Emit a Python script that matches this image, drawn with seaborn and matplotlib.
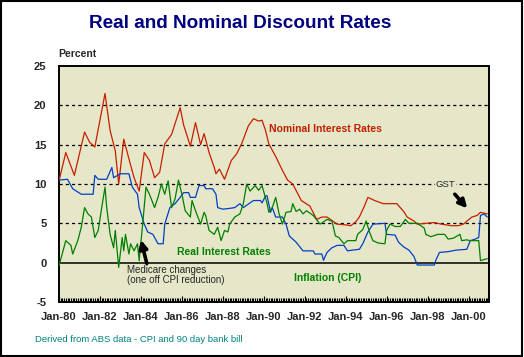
import pandas as pd
import matplotlib
matplotlib.use('Agg')
import matplotlib.pyplot as plt
import matplotlib.dates as mdates
from matplotlib.patches import Rectangle
import seaborn as sns

# Nominal interest rates (90 day bank bill)
nominal_dates = ['1980-01', '1980-05', '1980-10', '1981-04', '1981-07', '1981-10', '1982-04', '1982-07',
                 '1982-10', '1982-12', '1983-03', '1983-06', '1983-09', '1983-12', '1984-03', '1984-06',
                 '1984-09', '1984-12', '1985-03', '1985-07', '1985-12', '1986-02', '1986-06', '1986-09',
                 '1986-12', '1987-02', '1987-05', '1987-08', '1987-09', '1987-11', '1988-02', '1988-06',
                 '1988-09', '1988-12', '1989-04', '1989-07', '1989-10', '1989-12', '1990-02', '1990-04',
                 '1990-08', '1990-12', '1991-03', '1991-06', '1991-11', '1992-04', '1992-08', '1992-11',
                 '1993-02', '1993-06', '1993-08', '1994-01', '1994-04', '1994-07', '1994-09', '1994-12',
                 '1995-02', '1995-06', '1995-11', '1996-07', '1996-11', '1997-01', '1997-05', '1997-07',
                 '1997-12', '1998-05', '1998-09', '1999-03', '1999-07', '1999-10', '2000-03', '2000-06',
                 '2000-08', '2000-12']
nominal_rates = [10.4, 14.0, 11.1, 16.6, 15.3, 14.7, 21.5, 16.8,
                 14.2, 10.0, 15.7, 13.2, 10.8, 9.1, 14.0, 13.0,
                 10.8, 11.5, 15.1, 16.3, 19.7, 17.5, 14.8, 17.8,
                 15.0, 16.4, 14.0, 12.1, 11.3, 11.9, 10.6, 13.0,
                 13.8, 15.1, 17.4, 18.3, 18.0, 18.1, 16.8, 15.1,
                 13.5, 11.7, 10.5, 10.0, 7.9, 7.2, 5.5, 5.8,
                 5.8, 5.2, 4.9, 4.8, 4.7, 5.2, 5.8, 7.2,
                 8.3, 7.9, 7.5, 7.5, 6.5, 5.8, 5.3, 4.9,
                 5.0, 5.1, 4.9, 4.7, 4.7, 4.9, 5.8, 6.0,
                 6.4, 6.2]

# Inflation (CPI, annual change)
cpi_dates = ['1980-01', '1980-06', '1980-09', '1981-02', '1981-09', '1981-10', '1981-12', '1982-05',
             '1982-08', '1982-09', '1983-01', '1983-06', '1983-08', '1983-11', '1983-12', '1984-03',
             '1984-05', '1984-08', '1984-11', '1985-02', '1985-03', '1985-06', '1985-09', '1985-12',
             '1986-02', '1986-05', '1986-06', '1986-09', '1986-11', '1987-02', '1987-03', '1987-07',
             '1987-09', '1987-10', '1988-01', '1988-05', '1988-08', '1988-11', '1989-01', '1989-07',
             '1989-11', '1989-12', '1990-02', '1990-03', '1990-05', '1990-06', '1990-08', '1990-12',
             '1991-02', '1991-04', '1991-08', '1991-12', '1992-06', '1992-07', '1992-11', '1992-12',
             '1993-02', '1993-05', '1993-08', '1993-12', '1994-02', '1994-05', '1994-09', '1994-11',
             '1995-02', '1995-05', '1995-12', '1996-01', '1996-06', '1996-08', '1996-11', '1997-02',
             '1997-05', '1997-07', '1998-05', '1998-06', '1998-08', '1999-01', '1999-06', '1999-12',
             '2000-02', '2000-05', '2000-07', '2000-08', '2000-10', '2000-12']
cpi_rates = [10.5, 10.6, 9.4, 8.7, 8.7, 11.1, 10.6, 10.6,
             12.1, 10.8, 11.3, 11.3, 9.6, 8.7, 7.0, 4.9,
             3.9, 3.6, 2.4, 2.4, 4.9, 7.0, 7.5, 8.3,
             8.9, 8.9, 8.3, 8.3, 9.8, 9.8, 9.4, 9.4,
             8.7, 7.0, 6.8, 6.9, 7.0, 7.5, 7.0, 7.9,
             7.9, 7.6, 8.5, 8.5, 6.4, 7.0, 5.8, 5.8,
             4.9, 3.4, 2.6, 1.5, 1.5, 1.1, 1.1, 0.3,
             1.3, 1.9, 2.2, 2.2, 1.5, 1.6, 1.7, 2.4,
             3.9, 4.9, 5.0, 3.6, 3.5, 2.6, 2.0, 1.6,
             0.8, -0.3, -0.3, 0.4, 1.3, 1.4, 1.6, 1.7,
             2.8, 3.0, 3.2, 6.0, 6.2, 5.8]

# Real interest rates
real_dates = ['1980-01', '1980-05', '1980-08', '1980-09', '1980-12', '1981-02', '1981-04', '1981-06',
              '1981-08', '1981-10', '1981-12', '1982-02', '1982-04', '1982-05', '1982-07', '1982-09',
              '1982-10', '1982-12', '1983-02', '1983-03', '1983-04', '1983-06', '1983-07', '1983-09',
              '1983-11', '1983-12', '1984-02', '1984-04', '1984-06', '1984-09', '1984-11', '1985-01',
              '1985-03', '1985-05', '1985-07', '1985-09', '1985-11', '1986-01', '1986-03', '1986-06',
              '1986-07', '1986-09', '1986-12', '1987-02', '1987-03', '1987-05', '1987-08', '1987-10',
              '1987-12', '1988-02', '1988-04', '1988-05', '1988-08', '1988-11', '1989-01', '1989-03',
              '1989-05', '1989-08', '1989-10', '1989-12', '1990-03', '1990-04', '1990-06', '1990-08',
              '1990-10', '1990-12', '1991-02', '1991-05', '1991-06', '1991-08', '1991-10', '1991-12',
              '1992-02', '1992-06', '1992-10', '1993-02', '1993-05', '1993-07', '1993-09', '1993-12',
              '1994-02', '1994-07', '1994-08', '1994-11', '1995-01', '1995-03', '1995-05', '1995-08',
              '1995-12', '1996-01', '1996-03', '1996-06', '1996-09', '1996-12', '1997-02', '1997-07',
              '1997-11', '1997-12', '1998-03', '1998-07', '1998-11', '1999-01', '1999-04', '1999-08',
              '1999-09', '1999-12', '2000-02', '2000-07', '2000-08', '2000-10', '2000-12']
real_rates = [-0.4, 2.8, 2.2, 1.1, 2.8, 4.5, 7.0, 6.2,
              5.8, 3.2, 4.1, 7.0, 9.6, 7.0, 3.6, 1.9,
              4.1, -0.6, 3.2, 1.5, 3.6, 1.1, 2.4, 1.5,
              2.4, 0.25, 4.9, 9.6, 8.7, 7.0, 8.3, 10.0,
              8.7, 10.4, 7.0, 8.1, 10.5, 8.7, 6.6, 5.8,
              7.9, 6.6, 4.9, 6.4, 6.0, 4.1, 3.6, 4.5,
              2.8, 4.1, 3.9, 4.9, 5.8, 6.2, 7.5, 10.0,
              9.1, 9.8, 9.2, 9.8, 7.5, 6.4, 7.0, 8.3,
              6.2, 4.9, 6.4, 6.5, 7.5, 6.5, 6.8, 6.2,
              6.6, 6.0, 4.9, 5.5, 5.3, 3.4, 3.2, 2.4,
              2.8, 2.8, 3.6, 4.2, 5.3, 3.9, 2.8, 2.5,
              2.4, 4.1, 4.9, 4.6, 4.6, 5.5, 5.0, 5.0,
              4.4, 3.6, 3.3, 3.6, 3.6, 3.0, 3.1, 3.6,
              2.8, 2.9, 2.8, 2.8, 0.25, 0.4, 0.5]

series_names = ['Nominal', 'Inflation', 'Real']
series_colors = {'Nominal': '#c81e00', 'Inflation': '#0040c8', 'Real': '#008000'}

# long table for seaborn
frames = []
for name, d, v in zip(series_names,
                      [nominal_dates, cpi_dates, real_dates],
                      [nominal_rates, cpi_rates, real_rates]):
    frames.append(pd.DataFrame({'date': pd.to_datetime(d, format='%Y-%m'), 'rate': v, 'series': name}))
df = pd.concat(frames, ignore_index=True)

sns.set_style('white')
plt.rcParams['font.family'] = ['Liberation Sans', 'DejaVu Sans']
plt.rcParams['axes.unicode_minus'] = False

fig = plt.figure(figsize=(5.24, 3.57), dpi=100)
ax = fig.add_axes([59 / 524, 55 / 357, 430 / 524, 236 / 357])
ax.set_facecolor('#e6e6c8')

# grid and zero line first so the series sit on top
for level in [5, 10, 15, 20]:
    ax.axhline(level, color='black', lw=0.9, ls=(0, (2.5, 2.5)), zorder=1)
ax.axhline(0, color='black', lw=1.1, zorder=1)

sns.lineplot(data=df, x='date', y='rate', hue='series', palette=series_colors,
             hue_order=series_names, legend=False, lw=0.9, ax=ax, zorder=3)

ax.set_xlim(pd.Timestamp('1980-01-01'), pd.Timestamp('2000-12-31'))
ax.set_ylim(-5, 25)
ax.set_yticks([-5, 0, 5, 10, 15, 20, 25])
ax.set_xlabel('')
ax.set_ylabel('')

ax.xaxis.set_major_locator(mdates.YearLocator(2))
ax.xaxis.set_major_formatter(mdates.DateFormatter('Jan-%y'))
ax.xaxis.set_minor_locator(mdates.MonthLocator())
ax.tick_params(axis='x', which='minor', direction='in', length=3, width=0.8, color='black', bottom=True)
ax.tick_params(axis='x', which='major', direction='in', length=4, width=0.8, color='black', bottom=True,
               pad=7, labelsize=8)
ax.tick_params(axis='y', length=0, pad=9, labelsize=8)
for lab in ax.get_xticklabels() + ax.get_yticklabels():
    lab.set_fontweight('bold')

for sp in ax.spines.values():
    sp.set_visible(True)
    sp.set_color('black')
    sp.set_linewidth(1.4)

# series labels
ax.text(pd.Timestamp('1990-04-01'), 17.0, 'Nominal Interest Rates', color='#c02000',
        fontsize=7.5, fontweight='bold', va='center', zorder=4)
ax.text(pd.Timestamp('1985-10-01'), 1.4, 'Real Interest Rates', color='#008000',
        fontsize=7.5, fontweight='bold', va='center', zorder=4)
ax.text(pd.Timestamp('1991-07-01'), -1.9, 'Inflation (CPI)', color='#008000',
        fontsize=7.5, fontweight='bold', va='center', zorder=4)

# annotations
ax.text(pd.Timestamp('1983-05-01'), -0.9, 'Medicare changes', fontsize=7, va='center', zorder=4)
ax.text(pd.Timestamp('1983-05-01'), -2.2, '(one off CPI reduction)', fontsize=7, va='center', zorder=4)
ax.annotate('', xy=(pd.Timestamp('1984-01-01'), 2.9), xytext=(pd.Timestamp('1984-04-15'), -0.1),
            arrowprops=dict(arrowstyle='-|>', color='black', lw=2.6, mutation_scale=12,
                            shrinkA=0, shrinkB=0), zorder=5)
ax.text(pd.Timestamp('1998-11-15'), 9.9, 'GST', fontsize=6.8, ha='center', va='center', zorder=4,
        bbox=dict(facecolor='#e6e6c8', edgecolor='none', pad=0.5))
ax.annotate('', xy=(pd.Timestamp('1999-12-10'), 6.9), xytext=(pd.Timestamp('1999-05-01'), 8.7),
            arrowprops=dict(arrowstyle='-|>', color='black', lw=2.6, mutation_scale=12,
                            shrinkA=0, shrinkB=0), zorder=5)

# titles and notes
fig.text(240 / 524, 1 - 24 / 357, 'Real and Nominal Discount Rates', color='#000080',
         fontsize=13.7, fontweight='bold', ha='center', va='center')
fig.text(58 / 524, 1 - 54 / 357, 'Percent', fontsize=7.5, fontweight='bold', va='center')
fig.text(35 / 524, 18 / 357, 'Derived from ABS data - CPI and 90 day bank bill', color='#008080',
         fontsize=6.8, va='center')

# frame round the whole picture
fig.patches.append(Rectangle((0.5 / 524, 1.5 / 357), 521 / 524, 355 / 357, transform=fig.transFigure,
                             fill=False, edgecolor='black', lw=1.5))

fig.savefig('out.png', dpi=100)
